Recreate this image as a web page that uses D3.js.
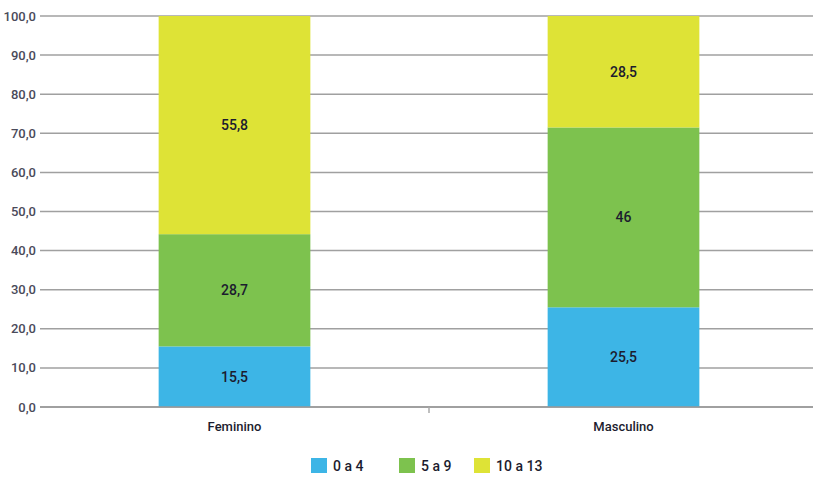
<!DOCTYPE html>
<html>
<head>
<meta charset="utf-8">
<script src="https://cdn.jsdelivr.net/npm/d3@7"></script>
<style>
  body { margin: 0; background: #fff; }
  text { font-family: Roboto, "DejaVu Sans", sans-serif; font-weight: 500; }
</style>
</head>
<body>
<div id="chart"></div>
<script>
var w = 813;
var h = 481;

// data
var categories = ["Feminino", "Masculino"];
var seriesNames = ["0 a 4", "5 a 9", "10 a 13"];
var age0to4 = [15.5, 25.5];
var age5to9 = [28.7, 46];
var age10to13 = [55.8, 28.5];
var labels0to4 = ["15,5", "25,5"];
var labels5to9 = ["28,7", "46"];
var labels10to13 = ["55,8", "28,5"];
var yTicks = [0, 10, 20, 30, 40, 50, 60, 70, 80, 90, 100];
var colors = ["#3db5e6", "#7dc24e", "#dee336"];

var svg = d3.select("#chart").append("svg")
  .attr("width", w)
  .attr("height", h);

var xScale = d3.scaleBand()
  .domain(categories)
  .range([40, 818])
  .paddingInner(0.61)
  .paddingOuter(0.305);

var yScale = d3.scaleLinear()
  .domain([0, 100])
  .range([407, 16]);

// gridlines
svg.append("g")
  .selectAll("line")
  .data(yTicks)
  .enter()
  .append("line")
  .attr("x1", 40)
  .attr("x2", w)
  .attr("y1", function(d) { return yScale(d); })
  .attr("y2", function(d) { return yScale(d); })
  .attr("stroke", "#a0a0a0")
  .attr("stroke-width", 1.5);

// y labels
svg.append("g")
  .selectAll("text")
  .data(yTicks)
  .enter()
  .append("text")
  .attr("x", 36)
  .attr("y", function(d) { return yScale(d); })
  .attr("dy", "0.35em")
  .attr("text-anchor", "end")
  .attr("font-size", 13)
  .attr("fill", "#4a4a5a")
  .text(function(d) { return d3.format(".1f")(d).replace(".", ","); });

// stack
var rows = categories.map(function(c, i) {
  return { cat: c, a: age0to4[i], b: age5to9[i], c: age10to13[i],
           la: labels0to4[i], lb: labels5to9[i], lc: labels10to13[i] };
});
var stack = d3.stack().keys(["a", "b", "c"]);
var layers = stack(rows);
var labelKeys = { a: "la", b: "lb", c: "lc" };

var groups = svg.selectAll("g.layer")
  .data(layers)
  .enter()
  .append("g")
  .attr("class", "layer")
  .attr("fill", function(d, i) { return colors[i]; });

groups.selectAll("rect")
  .data(function(d) { return d; })
  .enter()
  .append("rect")
  .attr("x", function(d) { return xScale(d.data.cat); })
  .attr("width", xScale.bandwidth())
  .attr("y", function(d) { return yScale(d[1]); })
  .attr("height", function(d) { return yScale(d[0]) - yScale(d[1]); });

groups.each(function(layer) {
  d3.select(this).selectAll("text")
    .data(layer)
    .enter()
    .append("text")
    .attr("x", function(d) { return xScale(d.data.cat) + xScale.bandwidth() / 2; })
    .attr("y", function(d) { return yScale((d[0] + d[1]) / 2); })
    .attr("dy", "0.35em")
    .attr("text-anchor", "middle")
    .attr("font-size", 14)
    .attr("fill", "#1c1c2e")
    .text(function(d) { return d.data[labelKeys[layer.key]]; });
});

// x axis
var xAxis = svg.append("g")
  .attr("transform", "translate(0," + yScale(0) + ")")
  .call(d3.axisBottom(xScale).tickSize(0).tickPadding(15));
xAxis.select(".domain").remove();
xAxis.selectAll("text")
  .attr("font-size", 13)
  .attr("fill", "#1c1c2e")
  .style("font-family", "Roboto, sans-serif")
  .style("font-weight", 500);

svg.append("line")
  .attr("x1", 40).attr("x2", w)
  .attr("y1", yScale(0)).attr("y2", yScale(0))
  .attr("stroke", "#999").attr("stroke-width", 1.5);

// middle tick between categories
var midX = (xScale(categories[0]) + xScale.bandwidth() + xScale(categories[1])) / 2;
svg.append("line")
  .attr("x1", midX).attr("x2", midX)
  .attr("y1", yScale(0)).attr("y2", yScale(0) + 6)
  .attr("stroke", "#aaa").attr("stroke-width", 1.5);

// legend
var legendX = [311, 399, 474];
var legend = svg.selectAll("g.legend")
  .data(seriesNames)
  .enter()
  .append("g")
  .attr("class", "legend")
  .attr("transform", function(d, i) { return "translate(" + legendX[i] + ",458)"; });

legend.append("rect")
  .attr("width", 16)
  .attr("height", 15)
  .attr("fill", function(d, i) { return colors[i]; });

legend.append("text")
  .attr("x", 22)
  .attr("y", 8)
  .attr("dy", "0.35em")
  .attr("font-size", 14)
  .attr("fill", "#1c1c2e")
  .text(function(d) { return d; });
</script>
</body>
</html>
